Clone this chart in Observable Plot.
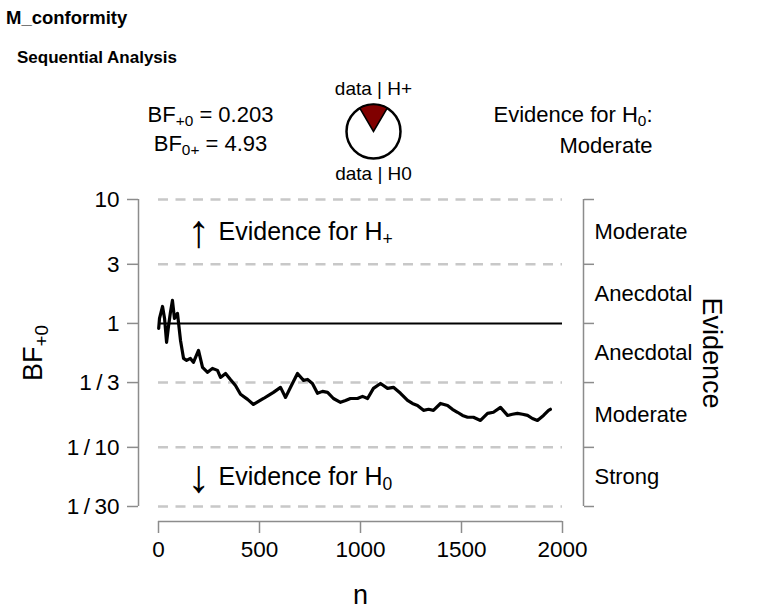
<!DOCTYPE html>
<html><head><meta charset="utf-8">
<script src="https://cdn.jsdelivr.net/npm/d3@7"></script>
<script src="https://cdn.jsdelivr.net/npm/@observablehq/plot@0.6"></script>
<style>
body{margin:0;background:#fff;font-family:"Liberation Sans",Arial,Helvetica,sans-serif;}
#wrap{position:relative;width:773px;height:616px;overflow:hidden;}
#t1{position:absolute;left:6px;top:7px;font-weight:bold;font-size:18.5px;line-height:normal;}
#t2{position:absolute;left:17px;top:48px;font-weight:bold;font-size:17px;line-height:normal;}
#chart{position:absolute;left:0;top:70px;}
</style></head><body>
<div id="wrap"><div id="t1">M_conformity</div><div id="t2">Sequential Analysis</div><div id="chart"></div></div>
<script>
// ---- data ----
const xTicks = [0, 500, 1000, 1500, 2000];
const yTicks = [1/30, 1/10, 1/3, 1, 3, 10];
const yTickLabels = ["1\u2009/\u200930", "1\u2009/\u200910", "1\u2009/\u20093", "1", "3", "10"];
const evidenceLabels = ["Strong", "Moderate", "Anecdotal", "Anecdotal", "Moderate"];
const dashedLevels = [1/30, 1/10, 1/3, 3, 10];
const refLevel = [1];
const bfPlus0 = 0.203;
const bfZeroPlus = 4.93;
const evidenceCategory = "Moderate";
const nValues = [1, 5, 20, 30, 40, 50, 59, 69, 79, 94, 109, 124, 139, 158, 173, 198, 218, 243, 267, 292, 307, 332, 356, 381, 406, 441, 470, 495, 520, 545, 569, 604, 629, 658, 688, 718, 738, 762, 787, 812, 837, 866, 901, 926, 950, 985, 1010, 1035, 1064, 1099, 1134, 1163, 1198, 1233, 1257, 1282, 1312, 1337, 1361, 1396, 1431, 1455, 1480, 1505, 1530, 1559, 1594, 1629, 1658, 1693, 1728, 1752, 1777, 1802, 1827, 1851, 1876, 1906, 1931, 1940];
const bfValues = [0.911, 1.097, 1.371, 1.097, 0.703, 0.963, 1.227, 1.533, 1.097, 1.204, 0.729, 0.522, 0.503, 0.522, 0.485, 0.606, 0.442, 0.403, 0.434, 0.418, 0.367, 0.395, 0.353, 0.316, 0.268, 0.244, 0.222, 0.235, 0.248, 0.263, 0.278, 0.305, 0.253, 0.316, 0.395, 0.347, 0.353, 0.328, 0.273, 0.283, 0.278, 0.248, 0.231, 0.239, 0.248, 0.248, 0.258, 0.248, 0.299, 0.328, 0.299, 0.305, 0.273, 0.239, 0.226, 0.218, 0.199, 0.203, 0.199, 0.226, 0.218, 0.203, 0.192, 0.181, 0.175, 0.175, 0.165, 0.188, 0.192, 0.210, 0.181, 0.185, 0.188, 0.185, 0.181, 0.171, 0.165, 0.181, 0.199, 0.203];

// ---- derived ----
const line = nValues.map((n, i) => ({n, bf: bfValues[i]}));
const mids = d3.pairs(yTicks).map(([a, b], i) => ({y: Math.sqrt(a * b), label: evidenceLabels[i]}));
const [yMin, yMax] = d3.extent(yTicks);
const [xMin, xMax] = d3.extent(xTicks);
const gray = "#8c8c8c";
const font = "'Liberation Sans', Arial, Helvetica, sans-serif";
const pieShare = bfPlus0 / (bfPlus0 + 1);
const wedge = {
  draw(ctx, size) {
    const r = Math.sqrt(size / Math.PI);
    const a = Math.PI * pieShare;
    ctx.moveTo(0, 0);
    ctx.arc(0, 0, r, -Math.PI / 2 - a, -Math.PI / 2 + a);
    ctx.closePath();
  }
};
const ft = (text, anchor, dx, dy, o = {}) =>
  Plot.text([text], {frameAnchor: anchor, dx, dy, text: d => d, fill: "black", textAnchor: "middle", lineAnchor: "middle", ...o});
const labelOf = d => yTickLabels[d3.minIndex(yTicks, t => Math.abs(Math.log(t / d)))];

const chart = Plot.plot({
  width: 773, height: 546,
  marginLeft: 158, marginRight: 211, marginTop: 129, marginBottom: 110,
  x: {domain: [xMin, xMax], axis: null},
  y: {type: "log", domain: [yMin, yMax], axis: null},
  style: {fontFamily: font, background: "white", overflow: "visible"},
  marks: [
    Plot.ruleY(dashedLevels, {x1: xMin, x2: xMax, stroke: "#c8c8c8", strokeWidth: 2.5, strokeDasharray: "10,7.5"}),
    Plot.ruleY(refLevel, {x1: xMin, x2: xMax, stroke: "black", strokeWidth: 2}),
    Plot.line(line, {x: "n", y: "bf", stroke: "black", strokeWidth: 3.2, strokeLinejoin: "round"}),
    // left axis
    Plot.ruleX([xMin], {y1: yMin, y2: yMax, dx: -20, stroke: gray, strokeWidth: 1.5}),
    Plot.axisY({ticks: yTicks, tickFormat: labelOf, anchor: "left", label: null, dx: -20, tickSize: 11, tickPadding: 8, fontSize: 22.5, stroke: gray, strokeWidth: 1.5, fill: "black"}),
    // bottom axis
    Plot.ruleY([yMin], {x1: xMin, x2: xMax, dy: 15, stroke: gray, strokeWidth: 1.5}),
    Plot.axisX({ticks: xTicks, tickFormat: d => String(d), anchor: "bottom", label: null, dy: 15, tickSize: 12, tickPadding: 8, fontSize: 22.5, stroke: gray, strokeWidth: 1.5, fill: "black"}),
    // right axis
    Plot.ruleX([xMax], {y1: yMin, y2: yMax, dx: 21, stroke: gray, strokeWidth: 1.5}),
    Plot.axisY({ticks: yTicks, tickFormat: () => "", anchor: "right", label: null, dx: 21, tickSize: 10, stroke: gray, strokeWidth: 1.5}),
    Plot.text(mids, {y: "y", text: "label", frameAnchor: "right", dx: 32, textAnchor: "start", fontSize: 22, fill: "black"}),
    ft("Evidence", "right", 149, 0, {rotate: 90, fontSize: 27}),
    ft("BF_{+0}", "left", -125, 0, {rotate: -90, fontSize: 27}),
    ft("n", "bottom", 0, 89, {fontSize: 27}),
    // evidence arrows
    Plot.text(["↑"], {y: mids[4].y, text: d => d, frameAnchor: "left", dx: 40, textAnchor: "middle", fontSize: 46, fill: "black"}),
    Plot.text(["Evidence for H_{+}"], {y: mids[4].y, text: d => d, frameAnchor: "left", dx: 60, textAnchor: "start", fontSize: 25, fill: "black"}),
    Plot.text(["↓"], {y: mids[0].y, text: d => d, frameAnchor: "left", dx: 40, textAnchor: "middle", fontSize: 46, fill: "black"}),
    Plot.text(["Evidence for H_{0}"], {y: mids[0].y, text: d => d, frameAnchor: "left", dx: 60, textAnchor: "start", fontSize: 25, fill: "black"}),
    // header
    ft(`BF_{+0} = ${bfPlus0}`, "top-left", 52, -85, {fontSize: 22}),
    ft(`BF_{0+} = ${bfZeroPlus}`, "top-left", 52, -56, {fontSize: 22}),
    ft("data | H+", "top-left", 215, -111, {fontSize: 19}),
    ft("data | H0", "top-left", 215, -26, {fontSize: 19}),
    Plot.dot([bfPlus0], {frameAnchor: "top-left", dx: 215, dy: -68, r: 27, fill: "white", stroke: "black", strokeWidth: 2.5}),
    Plot.dot([bfPlus0], {frameAnchor: "top-left", dx: 215, dy: -68, r: 27, symbol: wedge, fill: "#800000", stroke: "black", strokeWidth: 1.5}),
    ft("Evidence for H_{0}:", "top-right", 90, -85, {textAnchor: "end", fontSize: 22}),
    ft(evidenceCategory, "top-right", 90, -54, {textAnchor: "end", fontSize: 22})
  ]
});

function applySubscripts(svg) {
  svg.querySelectorAll("text").forEach(t => {
    const s = t.textContent;
    if (!s.includes("_{")) return;
    t.textContent = "";
    const re = /_\{([^}]*)\}/g;
    let last = 0, m, afterSub = false;
    const add = (str, sub) => {
      const ts = document.createElementNS("http://www.w3.org/2000/svg", "tspan");
      ts.textContent = str;
      if (sub) { ts.setAttribute("font-size", "70%"); ts.setAttribute("dy", "0.3em"); }
      else if (afterSub) ts.setAttribute("dy", "-0.21em");
      afterSub = sub;
      t.appendChild(ts);
    };
    while ((m = re.exec(s))) {
      if (m.index > last) add(s.slice(last, m.index), false);
      add(m[1], true);
      last = re.lastIndex;
    }
    if (last < s.length) add(s.slice(last), false);
  });
}
applySubscripts(chart);
document.getElementById("chart").appendChild(chart);
</script>
</body></html>
